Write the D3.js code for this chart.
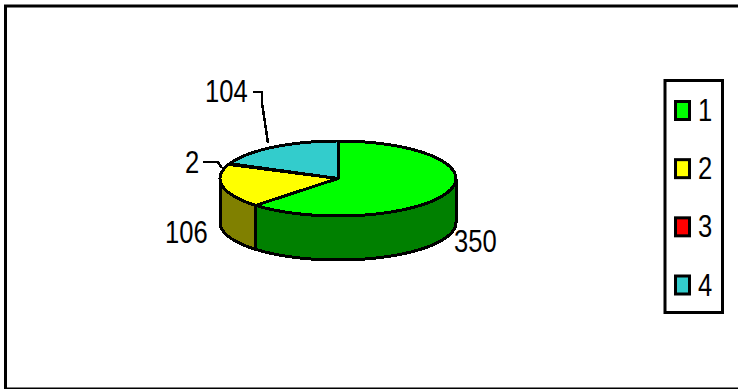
<!DOCTYPE html>
<html><head><meta charset="utf-8">
<script src="https://d3js.org/d3.v7.min.js"></script>
<style>html,body{margin:0;padding:0;background:#fff}svg{display:block}
text{font-family:"Liberation Sans",sans-serif;font-size:32px;fill:#000}</style>
</head><body><svg width="738" height="389"></svg>
<script>
const categories = ["1","2","3","4"];
const values = [350,106,2,104];
const dataLabels = ["350","106","2","104"];
const topColors = ["#00ff00","#ffff00","#ff0000","#33cccc"];
const sideColors = ["#008000","#808000","#800000","#1a6666"];

const svg = d3.select("svg");
svg.append("path").attr("d","M5.5 389V6H738").attr("fill","none").attr("stroke","#000").attr("stroke-width",3);
svg.append("path").attr("d","M5 388.5H738").attr("fill","none").attr("stroke","#000").attr("stroke-width",2);

const cx=338, cy=178.5, rx=118, ry=37.5, depth=44;
const X=d3.scaleLinear().domain([-1,1]).range([cx-rx,cx+rx]);
const Y=d3.scaleLinear().domain([-1,1]).range([cy-ry,cy+ry]);
const pie=d3.pie().sort(null).value(d=>d)(values);
const pt=a=>[X(Math.sin(a)),Y(-Math.cos(a))];
const samples=(a0,a1)=>d3.range(0,41).map(i=>pt(a0+(a1-a0)*i/40));
const line=d3.line();
const g=svg.append("g").attr("stroke","#000").attr("stroke-width",3).attr("stroke-linejoin","round").attr("shape-rendering","crispEdges");

pie.forEach((p,i)=>{
  const a0=Math.max(p.startAngle,Math.PI/2), a1=Math.min(p.endAngle,1.5*Math.PI);
  if(a1<=a0) return;
  const top=samples(a0,a1), bot=top.map(d=>[d[0],d[1]+depth]).reverse();
  g.append("path").attr("d",line(top.concat(bot))+"Z").attr("fill",sideColors[i]);
});
pie.forEach((p,i)=>{
  g.append("path").attr("d",line([[X(0),Y(0)]].concat(samples(p.startAngle,p.endAngle)))+"Z").attr("fill",topColors[i]);
});

const sx=0.8;
const labelPos=[[454,252],[165,243],[185,173],[205,102]];
svg.selectAll("text.d").data(dataLabels).join("text").attr("class","d")
  .attr("transform",(d,i)=>`translate(${labelPos[i][0]},${labelPos[i][1]}) scale(${sx},1)`).text(d=>d);
const leaders=[[[203,162],[218,162],[222,168]],[[253,92],[262,92],[262,103],[268,143]]];
leaders.forEach(l=>svg.append("path").attr("d",line(l)).attr("fill","none").attr("stroke","#000").attr("stroke-width",2.5).attr("shape-rendering","crispEdges"));

svg.append("rect").attr("x",665).attr("y",80.5).attr("width",57.5).attr("height",232).attr("fill","#fff").attr("stroke","#000").attr("stroke-width",3);
const ly=d3.scalePoint().domain(categories).range([110.5,285]);
const lg=svg.selectAll("g.l").data(categories).join("g").attr("class","l");
lg.append("rect").attr("x",675.5).attr("y",d=>ly(d)-9).attr("width",14).attr("height",18)
  .attr("fill",(d,i)=>topColors[i]).attr("stroke","#000").attr("stroke-width",3);
lg.append("text").attr("transform",d=>`translate(698,${ly(d)+10.5}) scale(${sx},1)`).text(d=>d);
</script></body></html>
